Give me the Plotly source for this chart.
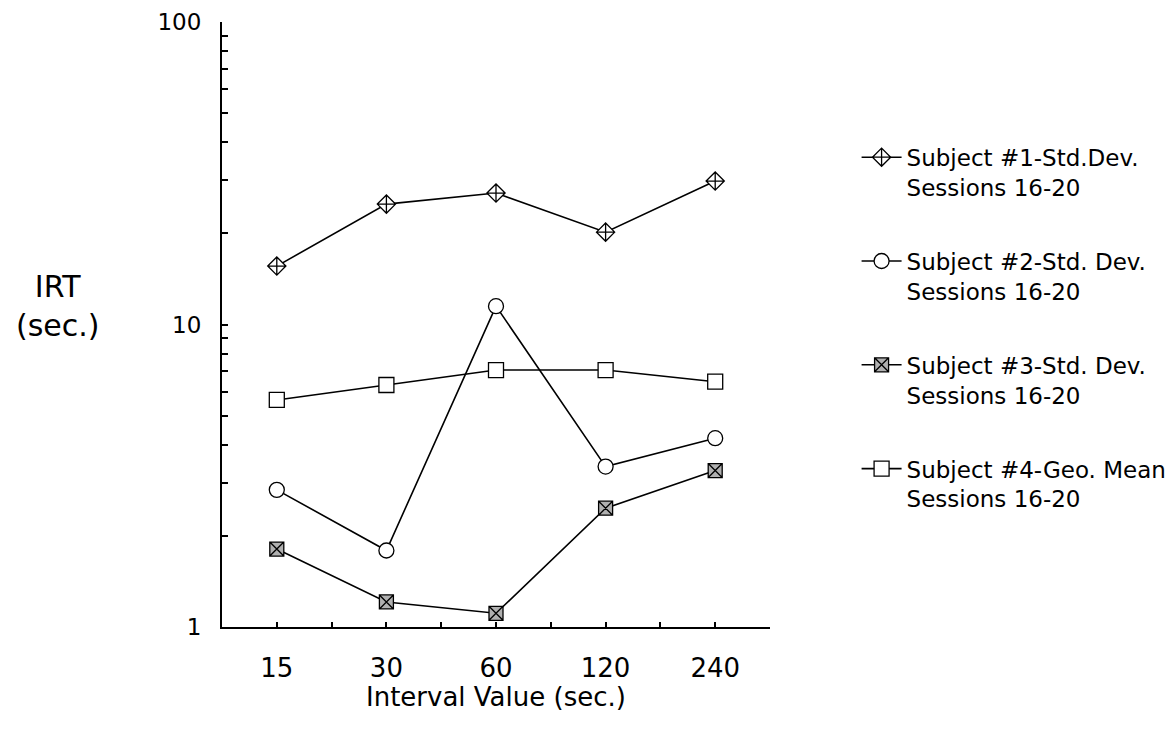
import plotly.graph_objects as go

# ---- data ----
intervals = ["15", "30", "60", "120", "240"]
subj1_sd = [15.6, 25.0, 27.2, 20.2, 29.8]
subj2_sd = [2.84, 1.79, 11.5, 3.39, 4.21]
subj3_sd = [1.81, 1.21, 1.11, 2.47, 3.29]
subj4_gm = [5.63, 6.31, 7.07, 7.07, 6.47]
names = [
    "Subject #1-Std.Dev.<br>Sessions 16-20",
    "Subject #2-Std. Dev.<br>Sessions 16-20",
    "Subject #3-Std. Dev.<br>Sessions 16-20",
    "Subject #4-Geo. Mean<br>Sessions 16-20",
]
y_ticks = [1, 10, 100]

FONT = "DejaVu Sans"
xidx = list(range(len(intervals)))

styles = [
    dict(symbol="diamond-cross", size=14, color="white"),
    dict(symbol="circle", size=15, color="white"),
    dict(symbol="square-x", size=14, color="#b0b0b0"),
    dict(symbol="square", size=15, color="white"),
]
series = [subj1_sd, subj2_sd, subj3_sd, subj4_gm]

fig = go.Figure()
for name, vals, st in zip(names, series, styles):
    fig.add_trace(go.Scatter(
        x=xidx, y=vals, mode="lines+markers", name=name, legendgroup=name,
        line=dict(color="black", width=1.6),
        marker=dict(symbol=st["symbol"], size=st["size"], color=st["color"],
                    line=dict(color="black", width=1.3)),
    ))

minor_log = [m * 10 ** e for e in (0, 1) for m in range(2, 10)]

fig.update_layout(
    width=1173, height=730,
    margin=dict(l=222, r=403, t=22, b=103, autoexpand=False),
    paper_bgcolor="white", plot_bgcolor="white",
    font=dict(family=FONT, color="black"),
    showlegend=True,
    legend=dict(x=1.158, xanchor="left", y=0.812, yanchor="top",
                font=dict(size=23, family=FONT), tracegroupgap=41,
                itemwidth=40, valign="top",
                bgcolor="rgba(0,0,0,0)"),
    xaxis=dict(
        range=[-0.5, 4.5], tickvals=xidx, ticktext=intervals,
        showline=True, linecolor="black", linewidth=2,
        ticks="inside", ticklen=5, tickwidth=2, tickcolor="black",
        minor=dict(tick0=0.5, dtick=1, ticks="inside", ticklen=5, tickwidth=2, tickcolor="black"),
        showgrid=False, zeroline=False,
        tickfont=dict(size=26, family=FONT), ticklabelstandoff=17,
    ),
    yaxis=dict(
        type="log", range=[0, 2], tickvals=y_ticks, ticktext=[str(v) for v in y_ticks],
        showline=True, linecolor="black", linewidth=2,
        ticks="inside", ticklen=6, tickwidth=2, tickcolor="black",
        minor=dict(tickvals=minor_log, ticks="inside", ticklen=6, tickwidth=2, tickcolor="black"),
        showgrid=False, zeroline=False,
        tickfont=dict(size=23, family=FONT), ticklabelstandoff=14,
    ),
    annotations=[
        dict(text="Interval Value (sec.)", xref="paper", yref="paper", x=0.5, y=-0.116,
             xanchor="center", yanchor="middle", showarrow=False, font=dict(size=26, family=FONT)),
        dict(text="IRT<br>(sec.)", xref="paper", yref="paper", x=-0.30, y=0.53,
             xanchor="center", yanchor="middle", showarrow=False, font=dict(size=30, family=FONT)),
    ],
)

fig.write_html("out.html", config={"displayModeBar": False},
               post_script="document.body.style.margin='0';")
